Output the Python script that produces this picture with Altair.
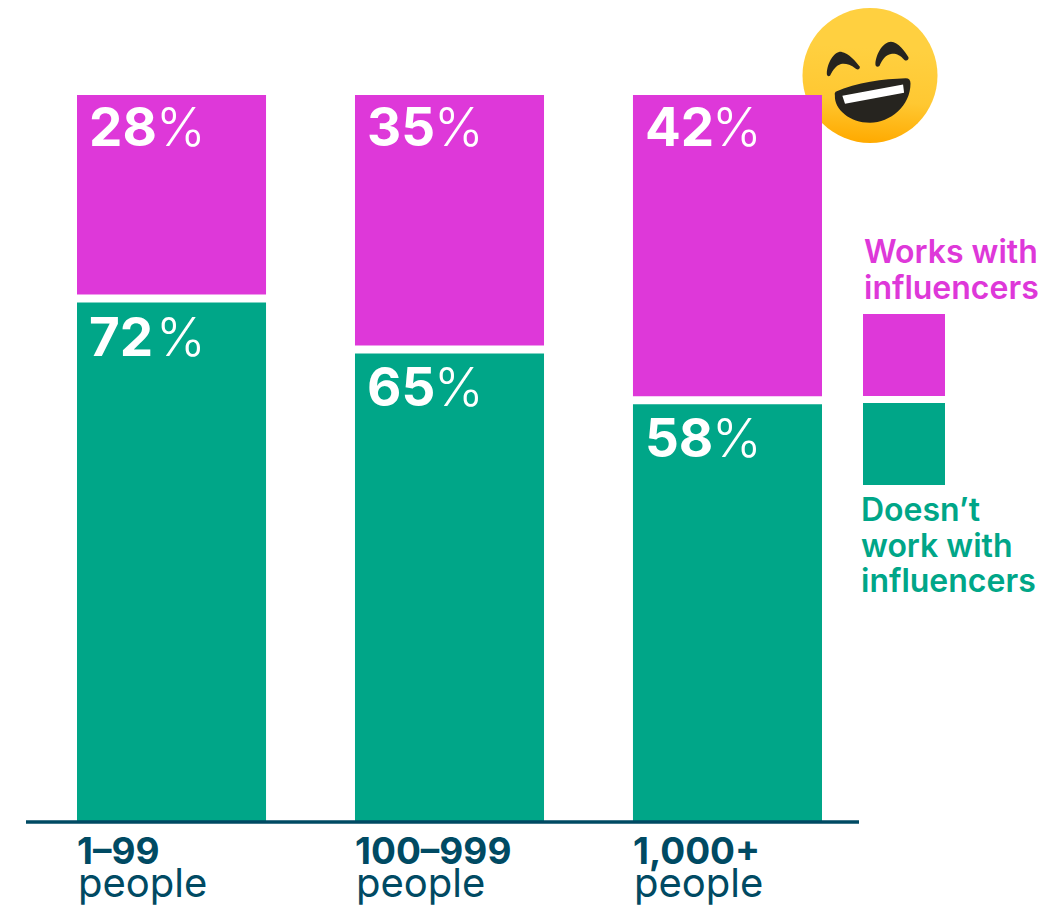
import altair as alt
import pandas as pd

categories = ["1–99", "100–999", "1,000+"]
works_pct = [28, 35, 42]
doesnt_pct = [72, 65, 58]
works_name = "Works with influencers"
doesnt_name = "Doesn’t work with influencers"
unit_word = "people"
works_lines = ["Works with", "influencers"]
doesnt_lines = ["Doesn’t", "work with", "influencers"]

MAGENTA = "#DE38D9"
GREEN = "#00A688"
NAVY = "#004A63"
FONT = "Inter"

rows = []
for c, w, d in zip(categories, works_pct, doesnt_pct):
    rows.append({"cat": c, "series": works_name, "value": w, "order": 2, "top": 100, "label": f"{w}"})
    rows.append({"cat": c, "series": doesnt_name, "value": d, "order": 1, "top": d, "label": f"{d}"})
df = pd.DataFrame(rows)
cats = pd.DataFrame({"cat": categories, "split": doesnt_pct, "unit": [unit_word] * 3})

xs = alt.Scale(domain=categories, range=[69, 814], paddingInner=0.32, paddingOuter=0)
ys = alt.Scale(domain=[0, 100], range=[814, 87])
X = alt.X("cat:N", scale=xs, axis=None, sort=None)
XL = alt.X("cat:N", scale=xs, axis=None, sort=None, bandPosition=0)

one = alt.Data(values=[{"k": 1}])
EX, EY = alt.value(862), alt.value(67.5)
ESIZE = 135 ** 2

face = alt.Chart(one).mark_circle(
    size=ESIZE, opacity=1,
    fill=alt.LinearGradient(
        gradient="linear", x1=0.55, y1=0.3, x2=0.5, y2=1,
        stops=[alt.GradientStop(offset=0, color="#FFD040"),
               alt.GradientStop(offset=0.55, color="#FFC832"),
               alt.GradientStop(offset=1, color="#FFAA00")]),
).encode(x=EX, y=EY)

def glyph(path, color):
    return alt.Chart(one).mark_point(
        shape=path, size=ESIZE, filled=True, fill=color, opacity=1, strokeWidth=0
    ).encode(x=EX, y=EY)

left_eye = glyph("M-0.64,-0.03 C-0.63,-0.2 -0.53,-0.36 -0.42,-0.35 C-0.32,-0.34 -0.2,-0.2 -0.15,-0.13 C-0.15,-0.09 -0.18,-0.08 -0.21,-0.1 C-0.3,-0.17 -0.37,-0.18 -0.43,-0.17 C-0.5,-0.15 -0.55,-0.08 -0.59,0 C-0.61,0.02 -0.64,0.01 -0.64,-0.03 Z", "#26241F")
right_eye = glyph("M0.08,-0.17 C0.09,-0.33 0.2,-0.5 0.31,-0.5 C0.42,-0.5 0.52,-0.35 0.57,-0.27 C0.58,-0.23 0.54,-0.21 0.51,-0.23 C0.44,-0.31 0.38,-0.33 0.31,-0.32 C0.24,-0.31 0.18,-0.24 0.14,-0.14 C0.11,-0.12 0.08,-0.13 0.08,-0.17 Z", "#26241F")
mouth = glyph("M-0.51,0.24 C-0.2,0.1 0.2,0.05 0.53,0.04 Q0.6,0.04 0.6,0.12 C0.6,0.45 0.3,0.7 0,0.7 C-0.3,0.7 -0.53,0.5 -0.52,0.3 Q-0.53,0.26 -0.51,0.24 Z", "#26241F")
teeth = glyph("M-0.41,0.3 L0.49,0.135 L0.505,0.255 L-0.37,0.42 Z", "#FFFFFF")

bars = alt.Chart(df).mark_bar(opacity=1).encode(
    x=X,
    y=alt.Y("value:Q", stack="zero", scale=ys, axis=None),
    order=alt.Order("order:Q"),
    color=alt.Color(
        "series:N",
        scale=alt.Scale(domain=[works_name, doesnt_name], range=[MAGENTA, GREEN]),
        legend=alt.Legend(
            orient="none", legendX=855, legendY=306, title=None, padding=0,
            symbolType="square", symbolSize=82 ** 2, symbolStrokeWidth=0, symbolOpacity=1,
            labelExpr="''", labelFontSize=1, rowPadding=7,
        ),
    ),
)

gaps = alt.Chart(cats).mark_tick(color="white", thickness=8, size=195, opacity=1).encode(
    x=X, y=alt.Y("split:Q", scale=ys, axis=None)
)

def value_labels(series, dy):
    base = alt.Chart(df).transform_filter(alt.datum.series == series)
    y = alt.Y("top:Q", scale=ys, axis=None)
    n = base.mark_text(
        align="left", baseline="alphabetic", font=FONT, fontSize=53, fontWeight=700,
        color="white", dx=12, dy=dy,
    ).encode(x=XL, y=y, text="label:N")
    p = base.transform_calculate(p="'%'").mark_text(
        align="left", baseline="alphabetic", font=FONT, fontSize=53, fontWeight=300,
        color="white", dx=79, dy=dy,
    ).encode(x=XL, y=y, text="p:N")
    return [n, p]

axis_line = alt.Chart(one).mark_rule(color=NAVY, strokeWidth=3.5).encode(
    x=alt.value(18), x2=alt.value(851), y=alt.Y(datum=0, scale=ys, axis=None)
)

tick_a = alt.Chart(cats).mark_text(
    align="left", baseline="alphabetic", font=FONT, fontSize=37, fontWeight=700, color=NAVY, dy=42
).encode(x=XL, y=alt.Y(datum=0, scale=ys, axis=None), text="cat:N")
tick_b = alt.Chart(cats).mark_text(
    align="left", baseline="alphabetic", font=FONT, fontSize=40, fontWeight=400, color=NAVY, dx=1, dy=75
).encode(x=XL, y=alt.Y(datum=0, scale=ys, axis=None), text="unit:N")

works_label = alt.Chart(pd.DataFrame({"t": ["\n".join(works_lines)]})).mark_text(
    align="left", baseline="alphabetic", font=FONT, fontSize=32, fontWeight=600, color=MAGENTA,
    lineBreak="\n", lineHeight=36,
).encode(x=alt.value(856), y=alt.value(255), text="t:N")
doesnt_label = alt.Chart(pd.DataFrame({"t": ["\n".join(doesnt_lines)]})).mark_text(
    align="left", baseline="alphabetic", font=FONT, fontSize=32, fontWeight=600, color=GREEN,
    lineBreak="\n", lineHeight=35.5,
).encode(x=alt.value(853), y=alt.value(513), text="t:N")

chart = alt.layer(
    face, left_eye, right_eye, mouth, teeth, bars, gaps,
    *value_labels(works_name, 51), *value_labels(doesnt_name, 57),
    axis_line, tick_a, tick_b, works_label, doesnt_label,
).properties(
    width=1039, height=899, padding=0, autosize=alt.AutoSizeParams(type="none"),
).configure_view(stroke=None)

chart.save("out.html", embed_options={"renderer": "svg", "actions": False})
